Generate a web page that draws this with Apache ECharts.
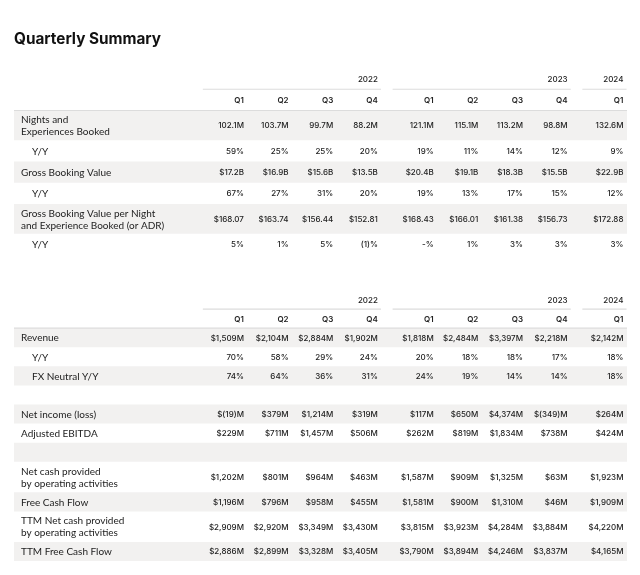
<!DOCTYPE html>
<html><head><meta charset="utf-8">
<script src="https://cdn.jsdelivr.net/npm/echarts@6/dist/echarts.min.js"></script>
<style>html,body{margin:0;padding:0;background:#fff}#c{width:640px;height:575px}</style>
</head><body><div id="c"></div>
<script>
// ---- data ----
const quarters = ['Q1','Q2','Q3','Q4','Q1','Q2','Q3','Q4','Q1'];
const years    = ['2022','2022','2022','2022','2023','2023','2023','2023','2024'];

const t1Labels = ['Nights and\nExperiences Booked','Y/Y','Gross Booking Value','Y/Y',
  'Gross Booking Value per Night\nand Experience Booked (or ADR)','Y/Y'];
const nightsBooked = ['102.1M','103.7M','99.7M','88.2M','121.1M','115.1M','113.2M','98.8M','132.6M'];
const nightsYoY    = ['59%','25%','25%','20%','19%','11%','14%','12%','9%'];
const gbv          = ['$17.2B','$16.9B','$15.6B','$13.5B','$20.4B','$19.1B','$18.3B','$15.5B','$22.9B'];
const gbvYoY       = ['67%','27%','31%','20%','19%','13%','17%','15%','12%'];
const adr          = ['$168.07','$163.74','$156.44','$152.81','$168.43','$166.01','$161.38','$156.73','$172.88'];
const adrYoY       = ['5%','1%','5%','(1)%','-%','1%','3%','3%','3%'];

const t2Labels = ['Revenue','Y/Y','FX Neutral Y/Y','','Net income (loss)','Adjusted EBITDA','',
  'Net cash provided\nby operating activities','Free Cash Flow',
  'TTM Net cash provided\nby operating activities','TTM Free Cash Flow'];
const revenue   = ['$1,509M','$2,104M','$2,884M','$1,902M','$1,818M','$2,484M','$3,397M','$2,218M','$2,142M'];
const revYoY    = ['70%','58%','29%','24%','20%','18%','18%','17%','18%'];
const fxYoY     = ['74%','64%','36%','31%','24%','19%','14%','14%','18%'];
const netIncome = ['$(19)M','$379M','$1,214M','$319M','$117M','$650M','$4,374M','$(349)M','$264M'];
const adjEbitda = ['$229M','$711M','$1,457M','$506M','$262M','$819M','$1,834M','$738M','$424M'];
const opCash    = ['$1,202M','$801M','$964M','$463M','$1,587M','$909M','$1,325M','$63M','$1,923M'];
const fcf       = ['$1,196M','$796M','$958M','$455M','$1,581M','$900M','$1,310M','$46M','$1,909M'];
const ttmOpCash = ['$2,909M','$2,920M','$3,349M','$3,430M','$3,815M','$3,923M','$4,284M','$3,884M','$4,220M'];
const ttmFcf    = ['$2,886M','$2,899M','$3,328M','$3,405M','$3,790M','$3,894M','$4,246M','$3,837M','$4,165M'];

const t1Values = [nightsBooked, nightsYoY, gbv, gbvYoY, adr, adrYoY];
const t2Values = [revenue, revYoY, fxYoY, null, netIncome, adjEbitda, null, opCash, fcf, ttmOpCash, ttmFcf];

// ---- styling ----
const FONT = 'Inter, "Noto Sans", sans-serif';
const LFONT = 'Lato, "Noto Sans", sans-serif';
const SHADE = '#f2f1f0';
const LINE = '#dcdcdc';
const TXT = '#222222';

// column positions (gap between year groups)
const yearGroups = [...new Set(years)];
const colX = years.map((y, i) => i + yearGroups.indexOf(y) * 0.25);

function makeTable(gi, labels, values, twoLine) {
  let y = 2;
  const layout = labels.map(l => {
    const h = l.includes('\n') ? twoLine : 1;
    const o = { start: y, end: y + h, mid: y + h / 2 };
    y += h; return o;
  });
  const total = y;
  const base = { type: 'custom', xAxisIndex: gi, yAxisIndex: gi, silent: true, clip: false, animation: false };
  const series = [];
  // row bands
  series.push(Object.assign({}, base, {
    z: 1,
    data: layout.map((l, i) => [l.start, l.end, i]),
    renderItem: (p, api) => {
      const i = api.value(2);
      if (i % 2) return { type: 'group', children: [] };
      const cs = p.coordSys;
      const y0 = api.coord([0, api.value(0)])[1];
      const y1 = api.coord([0, api.value(1)])[1];
      return { type: 'rect', shape: { x: cs.x, y: y0, width: cs.width, height: y1 - y0 }, style: { fill: SHADE } };
    }
  }));
  // row labels
  series.push(Object.assign({}, base, {
    z: 3,
    data: layout.map((l, i) => [0, l.mid, i]),
    renderItem: (p, api) => {
      const i = p.dataIndex;
      const cs = p.coordSys;
      const indent = /Y\/Y$/.test(labels[i]) ? 18 : 7;
      const yy = api.coord([0, api.value(1)])[1];
      return { type: 'text', style: { text: labels[i], x: cs.x + indent, y: yy + 0.5, align: 'left', verticalAlign: 'middle',
        fontSize: 10, lineHeight: 12, fontFamily: LFONT, fill: TXT } };
    }
  }));
  // cells
  const cellData = [], cellText = [];
  values.forEach((arr, r) => {
    if (!arr) return;
    arr.forEach((v, c) => { cellData.push([colX[c], layout[r].mid]); cellText.push(v); });
  });
  series.push(Object.assign({}, base, {
    z: 3,
    data: cellData,
    renderItem: (p, api) => {
      const pt = api.coord([api.value(0), api.value(1)]);
      return { type: 'text', style: { text: cellText[p.dataIndex], x: pt[0], y: pt[1] + 0.5, align: 'right', verticalAlign: 'middle',
        fontSize: 8, fontWeight: 500, fontFamily: FONT, fill: TXT } };
    }
  }));
  // quarter header
  series.push(Object.assign({}, base, {
    z: 3,
    data: quarters.map((q, c) => [colX[c], 1.55]),
    renderItem: (p, api) => {
      const pt = api.coord([api.value(0), api.value(1)]);
      return { type: 'text', style: { text: quarters[p.dataIndex], x: pt[0], y: pt[1], align: 'right', verticalAlign: 'middle',
        fontSize: 8, fontWeight: 600, fontFamily: FONT, fill: TXT } };
    }
  }));
  // year header + underline
  const yearData = yearGroups.map(yr => {
    const idx = years.map((y, i) => y === yr ? i : -1).filter(i => i >= 0);
    return [colX[idx[0]], colX[idx[idx.length - 1]]];
  });
  series.push(Object.assign({}, base, {
    z: 3,
    data: yearData,
    renderItem: (p, api) => {
      const a = api.coord([api.value(0) - 0.92, 1]);
      const b = api.coord([api.value(1) + 0.07, 1]);
      const t = api.coord([api.value(1), 0.55]);
      return { type: 'group', children: [
        { type: 'line', shape: { x1: a[0], y1: a[1], x2: b[0], y2: b[1] }, style: { stroke: LINE, lineWidth: 1.2 } },
        { type: 'text', style: { text: yearGroups[p.dataIndex], x: t[0], y: t[1], align: 'right', verticalAlign: 'middle',
          fontSize: 8, fontWeight: 500, fontFamily: FONT, fill: TXT } }
      ] };
    }
  }));
  // line under quarter header
  series.push(Object.assign({}, base, {
    z: 4,
    data: [[0, 2]],
    renderItem: (p, api) => {
      const cs = p.coordSys;
      const yy = api.coord([0, 2])[1];
      return { type: 'line', shape: { x1: cs.x, y1: yy, x2: cs.x + cs.width, y2: yy }, style: { stroke: LINE, lineWidth: 1.2 } };
    }
  }));
  return { series, total };
}

const t1 = makeTable(0, t1Labels, t1Values, 1.4);
const t2 = makeTable(1, t2Labels, t2Values, 1.6);

const xAxisBase = { type: 'value', min: -5.15, max: 8.58, show: false };
const option = {
  backgroundColor: '#ffffff',
  animation: false,
  title: { text: 'Quarterly Summary', left: 14, top: 32, padding: 0,
    textStyle: { fontSize: 15.3, fontWeight: 700, fontFamily: FONT, color: '#111111' } },
  grid: [
    { left: 14, right: 13, top: 68, height: 187 },
    { left: 14, right: 13, top: 290, height: 271 }
  ],
  xAxis: [Object.assign({ gridIndex: 0 }, xAxisBase), Object.assign({ gridIndex: 1 }, xAxisBase)],
  yAxis: [
    { gridIndex: 0, type: 'value', min: 0, max: t1.total, inverse: true, show: false },
    { gridIndex: 1, type: 'value', min: 0, max: t2.total, inverse: true, show: false }
  ],
  series: t1.series.concat(t2.series)
};
const chart = echarts.init(document.getElementById('c'), null, { renderer: 'canvas' });
chart.setOption(option);
</script>
</body></html>
